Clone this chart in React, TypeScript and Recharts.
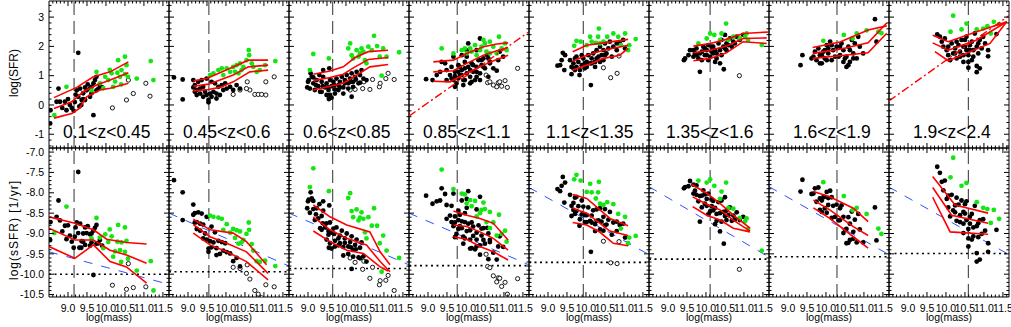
import React from 'react';
import { ComposedChart, Scatter, Line, XAxis, YAxis, ReferenceLine } from 'recharts';

type P = [number, number];

// ---------- data ----------
const zLabels = ['0.1<z<0.45', '0.45<z<0.6', '0.6<z<0.85', '0.85<z<1.1', '1.1<z<1.35', '1.35<z<1.6', '1.6<z<1.9', '1.9<z<2.4'];
const massLimit = [9.16, 9.55, 9.65, 9.77, 9.93, 10.11, 10.29, 10.59];
const floorLevel = [-10.0, -9.94, -9.86, -9.79, -9.71, -9.63, -9.57, -9.49];
const blueStart = [-9.45, -8.5, -8.5, -8.5, -7.87, -7.85, -7.85, -7.86];
const blueEnd = [-10.25, -9.8, -9.77, -9.77, -9.52, -9.58, -9.52, -9.52];
const fitStart: (number | null)[] = [null, null, null, -0.38, null, null, null, 0.14];
const fitEnd: (number | null)[] = [null, null, null, 2.5, null, null, null, 3.05];

const massTicks = [9.0, 9.5, 10.0, 10.5, 11.0, 11.5];
const sfrTicks = [-1, 0, 1, 2, 3];
const ssfrTicks = [-7.0, -7.5, -8.0, -8.5, -9.0, -9.5, -10.0, -10.5];

// [log mass, log SFR]
const blackPts: P[][] = [
  [[8.54,-0.18],[8.53,-0.63],[8.75,0.56],[8.70,0.11],[8.79,0.11],[8.92,0.11],[9.05,0.0],[8.85,-0.10],[8.96,-0.18],[9.10,-0.10],[9.18,0.10],[9.27,0.28],[9.23,0.50],[9.32,0.56],[9.40,0.40],[9.45,0.17],[9.36,0.17],[9.49,0.50],[9.58,0.56],[9.62,0.40],[9.67,0.74],[9.75,0.50],[9.80,0.56],[9.84,0.68],[9.71,0.85],[9.75,0.96],[9.40,0.20],[9.58,0.28],[9.27,1.78],[9.67,-0.35],[9.30,-0.05],[9.20,0.35],[9.45,0.60],[9.52,0.70],[9.62,0.62],[9.90,0.60],[9.15,-0.20],[9.00,0.20],[9.35,0.00]],
  [[8.63,0.94],[8.86,0.87],[8.86,0.19],[9.14,0.85],[9.18,0.68],[9.14,0.60],[9.23,0.51],[9.32,0.56],[9.40,0.62],[9.45,0.45],[9.49,0.34],[9.54,0.17],[9.58,0.39],[9.67,0.45],[9.75,0.39],[9.84,0.34],[9.93,0.51],[10.02,0.56],[10.11,0.62],[10.19,0.51],[10.28,0.68],[10.37,0.56],[9.27,0.79],[9.36,0.85],[9.49,0.90],[9.62,0.79],[9.71,0.74],[9.32,0.39],[9.40,0.28],[9.54,0.09],[9.23,0.34],[9.80,0.62],[9.89,0.68],[9.98,0.74],[9.18,0.45],[9.62,0.28],[9.75,0.22]],
  [[8.98,0.60],[9.00,0.79],[9.05,0.56],[9.10,0.96],[9.14,0.74],[9.18,0.51],[9.23,0.85],[9.27,0.64],[9.32,0.45],[9.36,0.79],[9.40,0.96],[9.45,0.60],[9.49,0.74],[9.54,0.51],[9.58,0.85],[9.58,0.34],[9.62,0.64],[9.67,0.79],[9.71,0.53],[9.75,0.90],[9.80,0.68],[9.84,0.79],[9.89,0.96],[9.93,0.60],[9.97,0.85],[10.02,1.02],[10.06,0.74],[10.11,0.90],[10.15,1.08],[10.19,0.79],[10.24,0.96],[10.28,1.13],[10.37,1.02],[10.41,1.19],[10.46,0.90],[9.40,1.19],[9.56,1.25],[9.14,0.94],[9.30,1.02],[9.49,0.34],[9.36,0.45],[9.71,0.39],[9.80,0.51],[9.93,0.39],[10.06,0.56],[10.19,0.62],[10.33,0.74],[10.54,0.85],[9.21,0.68],[9.39,0.64],[9.54,0.60],[9.69,0.68],[9.84,0.60],[9.97,0.74],[10.13,0.79],[10.26,0.87],[10.37,0.76],[9.02,0.85],[9.07,1.08],[9.55,0.20],[9.62,0.25],[10.15,0.28]],
  [[8.95,0.88],[9.12,0.85],[9.36,1.47],[9.45,1.42],[9.23,1.02],[9.32,1.13],[9.49,1.19],[9.58,1.02],[9.62,1.30],[9.67,0.85],[9.71,1.13],[9.75,0.74],[9.80,1.36],[9.84,1.02],[9.89,1.19],[9.93,0.85],[9.97,1.47],[10.02,1.08],[10.06,1.30],[10.11,0.96],[10.15,1.42],[10.19,1.13],[10.24,0.85],[10.28,1.30],[10.33,1.53],[10.37,1.08],[10.41,1.36],[10.46,1.59],[10.50,1.25],[10.56,1.70],[10.63,1.47],[10.81,1.17],[10.37,2.27],[10.06,2.10],[10.02,1.87],[10.28,1.87],[9.67,1.65],[9.89,1.70],[10.02,1.65],[9.80,0.91],[9.97,0.85],[10.15,0.79],[10.37,0.85],[9.93,0.68],[9.71,0.62],[10.59,0.96],[10.72,1.25],[10.85,1.53],[10.98,1.65],[10.89,1.82],[9.71,0.98],[9.89,1.02],[10.11,1.19],[10.28,1.13],[10.46,1.30],[10.63,1.42],[9.84,1.30],[10.19,1.36],[10.41,1.53],[10.59,1.59],[9.62,0.90],[9.49,0.85],[9.97,1.25],[9.80,1.13],[10.28,0.96],[10.11,0.74]],
  [[9.39,1.78],[9.45,1.70],[9.36,1.53],[9.25,1.34],[9.32,1.36],[9.43,1.19],[9.58,1.53],[9.62,1.30],[9.67,1.42],[9.62,1.05],[9.71,1.59],[9.75,1.30],[9.80,1.47],[9.84,1.19],[9.89,1.36],[9.93,1.59],[9.97,1.25],[10.02,1.47],[10.06,1.70],[10.11,1.42],[10.15,1.59],[10.19,1.76],[10.24,1.47],[10.28,1.87],[10.33,1.65],[10.37,1.99],[10.41,1.70],[10.46,1.87],[10.50,2.10],[10.54,1.76],[10.59,1.93],[10.63,2.16],[10.72,1.99],[10.81,1.87],[10.89,2.10],[11.03,1.93],[10.13,0.68],[9.83,1.02],[9.71,1.19],[10.02,1.30],[10.24,1.30],[10.46,1.53],[10.68,1.65],[9.89,1.70],[9.75,1.65],[10.28,1.59],[10.37,1.47],[9.67,1.25],[9.97,1.42],[10.15,1.42],[10.50,1.70],[10.81,2.10],[10.98,2.22]],
  [[9.42,1.53],[9.45,1.59],[9.54,1.70],[9.58,1.87],[9.67,1.65],[9.71,1.76],[9.75,1.93],[9.80,1.59],[9.84,1.13],[9.89,1.82],[9.93,1.99],[9.97,1.70],[10.02,1.87],[10.06,2.04],[10.11,1.65],[10.15,1.82],[10.19,1.99],[10.24,1.47],[10.28,1.76],[10.33,2.10],[10.37,1.87],[10.41,2.22],[10.46,1.99],[10.50,2.39],[10.54,2.10],[10.63,2.27],[10.72,2.16],[10.81,2.33],[10.89,2.22],[10.98,2.39],[10.37,1.42],[10.28,1.59],[10.06,1.53],[9.89,1.53],[9.75,1.70],[9.97,1.93],[10.15,1.99],[10.24,1.87],[10.50,1.93],[10.59,2.04],[10.68,1.99],[10.76,2.10],[10.02,1.70],[9.84,1.76],[9.67,1.87],[10.41,1.70],[10.54,1.87],[10.19,1.76],[10.47,1.22]],
  [[9.33,1.36],[9.38,1.70],[9.62,1.59],[9.71,1.82],[9.80,1.93],[9.84,1.70],[9.89,1.42],[9.93,1.82],[9.97,1.59],[10.02,2.04],[10.06,1.76],[10.11,2.16],[10.15,1.53],[10.19,1.87],[10.24,1.65],[10.28,1.99],[10.37,1.70],[10.41,2.10],[10.46,1.87],[10.50,1.59],[10.54,1.30],[10.59,1.99],[10.63,1.47],[10.68,2.22],[10.72,1.76],[10.76,2.10],[10.81,1.59],[10.85,2.33],[10.89,1.99],[10.98,1.76],[11.29,2.93],[11.33,2.16],[9.84,1.42],[10.02,1.53],[10.06,1.93],[9.97,1.87],[10.37,1.99],[10.63,1.87],[10.54,1.65],[10.72,1.59],[10.15,2.04],[9.67,1.65],[9.75,1.53],[9.89,1.70],[10.33,1.65],[10.46,1.47],[10.59,1.36]],
  [[9.77,2.41],[9.89,2.16],[9.93,1.99],[9.97,2.27],[10.02,1.87],[10.06,1.70],[10.11,1.53],[10.15,2.10],[10.19,1.76],[10.24,1.93],[10.28,1.59],[10.33,2.04],[10.37,1.82],[10.41,2.22],[10.46,1.70],[10.50,1.99],[10.54,2.33],[10.59,1.47],[10.63,1.87],[10.68,2.16],[10.72,1.65],[10.76,2.44],[10.81,1.99],[10.81,1.33],[10.85,1.76],[10.89,2.22],[10.94,1.93],[10.98,2.33],[11.03,2.10],[11.11,1.87],[10.28,2.16],[10.46,1.99],[10.54,1.87],[10.37,1.65],[10.63,2.04],[10.72,1.87],[10.24,1.76],[10.06,1.99],[9.84,2.33],[10.59,1.70],[10.68,1.53],[10.85,2.10],[10.46,1.47],[10.50,2.22],[10.59,1.27],[10.81,1.12],[10.89,1.25],[11.11,1.66],[11.33,2.42]],
];

const greenPts: P[][] = [
  [[8.96,0.62],[8.64,-0.35],[9.75,1.13],[9.84,0.74],[9.98,0.96],[10.06,0.85],[10.15,1.08],[10.24,0.80],[10.32,1.53],[10.37,0.96],[10.41,1.19],[10.50,1.65],[10.50,1.05],[10.54,1.36],[10.58,0.96],[9.62,0.50],[10.81,0.90],[11.18,1.50],[11.25,0.85],[9.93,0.57],[10.19,0.62],[10.10,1.20],[10.30,1.10],[10.40,0.70]],
  [[9.58,1.02],[9.80,1.19],[9.89,1.25],[10.02,1.25],[10.11,1.13],[10.19,1.30],[10.28,1.36],[10.37,1.42],[10.46,1.30],[10.54,1.53],[10.60,1.87],[10.61,1.70],[10.68,1.42],[10.72,1.30],[10.81,1.13],[10.89,1.19],[11.03,1.36],[11.30,1.50],[9.67,1.08],[10.24,1.13],[10.41,1.19],[9.93,1.02],[10.33,1.08]],
  [[9.14,1.74],[9.55,1.59],[9.05,1.19],[10.11,2.10],[10.06,1.93],[10.28,1.87],[10.37,1.76],[10.46,1.82],[10.74,2.36],[10.59,1.99],[10.68,1.87],[10.82,2.01],[10.98,1.93],[11.40,1.80],[10.89,1.65],[11.07,1.65],[10.94,1.00],[10.50,1.53],[10.19,1.59],[10.33,1.65],[10.54,1.42],[10.41,1.93],[10.15,1.70]],
  [[9.36,1.93],[9.67,1.76],[9.89,1.87],[10.02,1.76],[10.11,1.93],[10.24,2.04],[10.41,1.99],[10.50,2.10],[10.63,2.16],[10.72,1.99],[10.87,2.33],[10.94,1.93],[11.03,2.10],[11.07,1.87],[10.81,1.76],[10.54,1.82],[10.37,1.87],[10.28,1.70],[10.63,1.76],[10.15,1.82],[9.97,1.93],[10.46,2.22]],
  [[9.69,2.02],[9.75,2.19],[9.86,2.16],[10.02,2.04],[10.15,2.16],[10.26,2.12],[10.34,2.61],[10.32,2.33],[10.46,2.16],[10.56,2.33],[10.72,2.44],[10.85,2.33],[10.92,2.04],[11.03,2.44],[11.11,1.87],[11.14,2.04],[11.31,2.25],[10.11,2.33],[10.37,2.10]],
  [[9.80,2.10],[10.11,2.44],[10.22,2.39],[10.41,2.44],[10.53,2.78],[10.37,2.22],[10.59,2.22],[10.72,2.33],[10.89,2.27],[11.03,2.33],[11.07,2.44],[11.11,2.22],[11.47,2.05],[10.02,2.27]],
  [[9.93,2.19],[10.47,2.39],[10.70,2.27],[10.81,2.44],[11.07,2.55],[11.38,2.50],[11.46,2.45]],
  [[10.19,3.05],[10.12,2.50],[10.41,2.58],[10.54,2.78],[10.81,2.58],[11.09,2.69],[11.18,2.44],[11.26,2.84],[11.40,2.76],[10.98,2.61]],
];

const openPts: P[][] = [
  [[10.17,-0.10],[10.59,0.85],[10.54,0.17],[10.72,0.39],[11.05,0.74],[11.16,0.30]],
  [[10.19,0.36],[10.37,0.51],[10.56,0.79],[10.63,0.51],[10.76,0.36],[10.85,0.36],[10.94,0.36],[11.05,0.34],[11.05,0.79],[11.27,0.96],[10.54,0.56]],
  [[10.11,0.51],[10.24,0.53],[10.44,0.56],[10.47,0.79],[10.63,0.53],[10.70,0.87],[10.88,0.62],[10.90,0.74],[11.05,0.90],[11.11,1.08],[11.27,0.87]],
  [[10.53,1.02],[10.57,0.76],[10.63,0.79],[10.81,0.62],[10.85,0.76],[10.94,0.64],[11.03,0.83],[11.09,0.60],[11.36,1.25],[10.89,0.79],[10.72,0.68]],
  [[10.46,1.27],[10.65,0.93],[10.82,1.08],[10.87,1.67]],
  [[10.88,1.00]],
  [],
  [],
];

const sfrUpper: P[][] = [
  [[8.63,0.25],[9.23,0.60],[9.67,0.96],[10.11,1.13],[10.59,1.47]],
  [[9.14,0.82],[9.49,0.90],[9.75,1.05],[10.11,1.25],[10.59,1.53],[11.11,1.53]],
  [[9.14,1.05],[9.58,1.16],[9.93,1.30],[10.24,1.62],[10.59,1.82],[11.11,1.87]],
  [[9.14,1.47],[9.67,1.53],[10.02,1.76],[10.46,1.99],[10.81,2.08],[11.11,2.12]],
  [[9.65,1.82],[10.02,2.04],[10.46,2.12],[11.11,2.24]],
  [[9.67,2.01],[10.11,2.10],[10.54,2.24],[10.98,2.44],[11.65,2.49]],
  [[9.65,1.96],[10.37,2.15],[11.11,2.56],[11.60,2.70]],
  [[9.65,2.38],[10.06,2.16],[10.81,2.50],[11.60,2.84]],
];
const sfrMid: P[][] = [
  [[8.63,-0.12],[9.10,0.11],[9.40,0.45],[9.75,0.68],[10.11,0.85],[10.59,1.10]],
  [[9.14,0.64],[9.54,0.71],[9.84,0.85],[10.19,1.02],[10.59,1.30],[11.11,1.36]],
  [[9.14,0.83],[9.58,0.94],[9.93,1.05],[10.24,1.30],[10.59,1.55],[11.11,1.62]],
  [[9.14,1.13],[9.67,1.17],[10.02,1.42],[10.46,1.70],[10.81,1.85],[11.11,1.96]],
  [[9.65,1.50],[10.02,1.70],[10.46,1.87],[11.11,2.04]],
  [[9.67,1.78],[10.11,1.87],[10.54,2.01],[10.98,2.27],[11.60,2.29]],
  [[9.65,1.76],[10.37,1.90],[11.11,2.12],[11.60,2.80]],
  [[9.65,2.12],[10.06,1.87],[10.81,2.22],[11.60,2.84]],
];
const sfrLower: P[][] = [
  [[8.63,-0.45],[9.10,-0.29],[9.30,-0.12],[9.49,0.28],[9.84,0.51],[10.11,0.57],[10.59,0.74]],
  [[9.14,0.48],[9.54,0.53],[9.84,0.60],[10.19,0.79],[10.63,1.13],[11.11,1.19]],
  [[9.14,0.51],[9.58,0.64],[9.93,0.74],[10.28,1.02],[10.63,1.30],[11.11,1.38]],
  [[9.14,0.81],[9.58,0.79],[10.02,1.08],[10.46,1.36],[10.81,1.55],[11.11,1.70]],
  [[9.65,1.19],[10.02,1.36],[10.46,1.59],[10.89,1.70],[11.11,1.93]],
  [[9.67,1.51],[10.11,1.59],[10.54,1.78],[10.98,2.16],[11.60,2.10]],
  [[9.65,1.59],[10.37,1.68],[11.11,1.78],[11.60,2.45]],
  [[9.71,1.82],[10.06,1.51],[11.16,2.10],[11.60,2.84]],
];

const ssfrUpper: P[][] = [
  [[8.50,-8.59],[9.18,-8.75],[9.67,-8.91],[10.02,-9.14],[10.54,-9.22],[11.07,-9.26]],
  [[9.14,-8.65],[9.58,-8.91],[10.19,-8.99],[10.54,-9.20],[11.07,-9.77]],
  [[9.14,-8.30],[9.58,-8.59],[10.02,-8.79],[10.63,-8.96],[10.90,-9.45],[11.16,-9.77]],
  [[9.67,-8.45],[10.02,-8.55],[10.37,-8.63],[10.72,-8.75],[11.11,-9.16]],
  [[9.65,-8.04],[10.02,-8.14],[10.37,-8.42],[10.63,-8.63],[11.11,-8.81]],
  [[9.62,-7.79],[10.02,-8.01],[10.37,-8.26],[10.72,-8.55],[11.16,-8.87]],
  [[9.67,-7.97],[10.10,-8.10],[10.72,-8.38],[11.11,-8.71]],
  [[9.65,-7.60],[10.24,-8.30],[11.11,-8.50]],
];
const ssfrMid: P[][] = [
  [[8.50,-8.87],[9.18,-9.16],[9.67,-9.16],[10.11,-9.41],[10.54,-9.53],[11.07,-9.73]],
  [[9.14,-8.78],[9.58,-9.08],[10.02,-9.24],[10.54,-9.45],[11.11,-9.98]],
  [[9.14,-8.59],[9.58,-8.91],[10.02,-9.12],[10.54,-9.28],[10.90,-9.69],[11.16,-9.94]],
  [[9.67,-8.79],[10.02,-8.83],[10.37,-8.96],[10.72,-9.12],[11.11,-9.41]],
  [[9.65,-8.38],[10.02,-8.50],[10.37,-8.75],[10.63,-8.94],[11.11,-9.05]],
  [[9.65,-8.10],[10.02,-8.28],[10.37,-8.42],[10.72,-8.67],[11.16,-8.94]],
  [[9.67,-8.18],[10.10,-8.42],[10.72,-8.83],[11.11,-9.05]],
  [[9.65,-7.87],[10.15,-8.55],[11.11,-8.75]],
];
const ssfrLower: P[][] = [
  [[8.50,-9.32],[9.18,-9.61],[9.67,-9.28],[10.11,-9.69],[10.54,-9.82],[11.07,-10.22]],
  [[9.14,-8.99],[9.58,-9.28],[10.02,-9.45],[10.54,-9.69],[11.11,-10.14]],
  [[9.14,-8.94],[9.58,-9.20],[10.02,-9.41],[10.46,-9.49],[10.90,-9.82],[11.11,-9.92]],
  [[9.67,-9.08],[10.02,-9.14],[10.37,-9.32],[10.72,-9.45],[11.11,-9.65]],
  [[9.65,-8.73],[10.02,-8.79],[10.37,-8.97],[10.72,-9.24],[11.11,-9.30]],
  [[9.65,-8.34],[10.02,-8.55],[10.37,-8.67],[10.72,-8.87],[11.16,-8.96]],
  [[9.67,-8.37],[10.10,-8.63],[10.72,-9.08],[11.11,-9.36]],
  [[9.65,-8.11],[10.11,-8.96],[11.11,-9.02]],
];

// ---------- layout / style ----------
const FONT = '"Liberation Sans", Arial, Helvetica, sans-serif';
const PANEL_W = 120;
const LEFT = 49;
const TOP_H = 147;
const BOT_H = 149;
const BOT_TOP = 148;
const X_DOMAIN: [number, number] = [8.5, 11.66];
const SFR_DOMAIN: [number, number] = [-1.47, 3.55];
const SSFR_DOMAIN: [number, number] = [-10.56, -6.9];
const LABEL_INSET = [14, 14, 14, 14, 17, 17, 24, 24];
const GREEN = '#14e614';
const RED = '#ff0000';
const BLUE = '#3050ff';
const AX = 1; // axis band thickness

const steps = (a: number, b: number, s: number) => {
  const out: number[] = [];
  const n = Math.round((b - a) / s);
  for (let k = 0; k <= n; k++) out.push(Math.round((a + k * s) * 1000) / 1000);
  return out;
};
const xTickAll = steps(8.6, 11.6, 0.1);
const sfrTickAll = steps(-1.4, 3.4, 0.2);
const ssfrTickAll = steps(-10.5, -7.0, 0.1);

const isMajor = (v: number, majors: number[]) => majors.some((m) => Math.abs(m - v) < 1e-6);

function makeTick(side: 'bottom' | 'top' | 'left' | 'right', majors: number[], fmt: ((v: number) => string) | null) {
  return function TickMark(props: any) {
    const { x, y, payload } = props;
    const v = payload.value as number;
    const major = isMajor(v, majors);
    const len = major ? 5 : 2.5;
    let x2 = x;
    let y2 = y;
    if (side === 'bottom') y2 = y - len;
    else if (side === 'top') y2 = y + len;
    else if (side === 'left') x2 = x + len;
    else x2 = x - len;
    let label: React.ReactNode = null;
    if (fmt && major) {
      if (side === 'bottom') {
        label = (
          <text x={x} y={y + 15} textAnchor="middle" fontSize={10.5} fontFamily={FONT} fill="#000">
            {fmt(v)}
          </text>
        );
      } else if (side === 'left') {
        label = (
          <text x={x - 5} y={y} dy="0.35em" textAnchor="end" fontSize={10.5} fontFamily={FONT} fill="#000">
            {fmt(v)}
          </text>
        );
      }
    }
    return (
      <g>
        <line x1={x} y1={y} x2={x2} y2={y2} stroke="#000" strokeWidth={1} />
        {label}
      </g>
    );
  };
}

const toXY = (pts: P[]) => pts.map((p) => ({ x: p[0], y: p[1] }));

const dot = (fill: string) => (props: any) => <circle cx={props.cx} cy={props.cy} r={2.4} fill={fill} />;
const ring = (props: any) => <circle cx={props.cx} cy={props.cy} r={2.1} fill="#fff" stroke="#000" strokeWidth={0.9} />;

function Panel({ i, top }: { i: number; top: boolean }) {
  const first = i === 0;
  const last = i === 7;
  const ml = first ? LEFT : 0;
  const mr = last ? 2 : 0;
  const mb = top ? 0 : 29;
  const plotH = top ? TOP_H : BOT_H;
  const plotTop = top ? 1 : BOT_TOP;
  const width = PANEL_W + ml + mr + 2 * AX;
  const height = plotH + mb + 2 * AX;
  const yDomain = top ? SFR_DOMAIN : SSFR_DOMAIN;
  const yTicks = top ? sfrTickAll : ssfrTickAll;
  const yMajors = top ? sfrTicks : ssfrTicks;
  const yFmt = top ? (v: number) => String(v) : (v: number) => v.toFixed(1);
  const conv = (pts: P[]) => pts.map((p) => ({ x: p[0], y: top ? p[1] : p[1] - p[0] }));

  const black = conv(blackPts[i]);
  const green = conv(greenPts[i]);
  const open = conv(openPts[i]);
  const up = toXY((top ? sfrUpper : ssfrUpper)[i]);
  const mid = toXY((top ? sfrMid : ssfrMid)[i]);
  const lo = toXY((top ? sfrLower : ssfrLower)[i]);
  const blue = [
    { x: X_DOMAIN[0], y: blueStart[i] },
    { x: X_DOMAIN[1], y: blueEnd[i] },
  ];
  const fs = fitStart[i];
  const fe = fitEnd[i];
  const fit = fs !== null && fe !== null ? [
    { x: X_DOMAIN[0], y: fs },
    { x: X_DOMAIN[1], y: fe },
  ] : null;

  const common = { xAxisId: 'b', yAxisId: 'l' } as const;

  return (
    <div style={{ position: 'absolute', left: LEFT + i * PANEL_W - ml - AX, top: plotTop - AX, width, height }}>
      <ComposedChart width={width} height={height} margin={{ top: 0, right: mr, bottom: mb, left: ml }}>
        <XAxis
          xAxisId="b" dataKey="x" type="number" domain={X_DOMAIN} allowDataOverflow ticks={xTickAll} interval={0}
          height={AX} tickSize={0} tickMargin={0} tickLine={false} axisLine={{ stroke: '#000', strokeWidth: 1 }}
          orientation="bottom" tick={makeTick('bottom', massTicks, top ? null : (v) => v.toFixed(1))}
        />
        <XAxis
          xAxisId="t" dataKey="x" type="number" domain={X_DOMAIN} allowDataOverflow ticks={xTickAll} interval={0}
          height={AX} tickSize={0} tickMargin={0} tickLine={false} axisLine={{ stroke: '#000', strokeWidth: 1 }}
          orientation="top" tick={makeTick('top', massTicks, null)}
        />
        <YAxis
          yAxisId="l" type="number" domain={yDomain} allowDataOverflow ticks={yTicks} interval={0}
          width={AX} tickSize={0} tickMargin={0} tickLine={false} axisLine={{ stroke: '#000', strokeWidth: 1 }}
          orientation="left" tick={makeTick('left', yMajors, first ? yFmt : null)}
        />
        <YAxis
          yAxisId="r" type="number" domain={yDomain} allowDataOverflow ticks={yTicks} interval={0}
          width={AX} tickSize={0} tickMargin={0} tickLine={false} axisLine={{ stroke: '#000', strokeWidth: 1 }}
          orientation="right" tick={makeTick('right', yMajors, null)}
        />
        <ReferenceLine {...common} x={massLimit[i]} stroke="#444" strokeWidth={1.1} strokeDasharray="13 6" />
        {!top && (
          <ReferenceLine {...common} y={floorLevel[i]} stroke="#000" strokeWidth={1.6} strokeDasharray="2 3.5" />
        )}
        {!top && (
          <Line {...common} data={blue} dataKey="y" stroke={BLUE} strokeWidth={1} strokeDasharray="9 9" dot={false} isAnimationActive={false} />
        )}
        {open.length > 0 && (
          <Scatter {...common} data={open} dataKey="y" shape={ring} isAnimationActive={false} />
        )}
        <Scatter {...common} data={black} dataKey="y" shape={dot('#000')} isAnimationActive={false} />
        <Scatter {...common} data={green} dataKey="y" shape={dot(GREEN)} isAnimationActive={false} />
        <Line {...common} data={up} dataKey="y" stroke={RED} strokeWidth={1.6} dot={false} isAnimationActive={false} zIndex={700} />
        <Line {...common} data={mid} dataKey="y" stroke={RED} strokeWidth={1.6} dot={false} isAnimationActive={false} zIndex={700} />
        <Line {...common} data={lo} dataKey="y" stroke={RED} strokeWidth={1.6} dot={false} isAnimationActive={false} zIndex={700} />
        {top && fit && (
          <Line {...common} data={fit} dataKey="y" stroke={RED} strokeWidth={1.4} strokeDasharray="8 3 2 3" dot={false} isAnimationActive={false} zIndex={700} />
        )}
      </ComposedChart>
    </div>
  );
}

export default function App() {
  const idx = [0, 1, 2, 3, 4, 5, 6, 7];
  return (
    <div style={{ position: 'absolute', left: 0, top: 0, width: 1011, height: 327, background: '#fff', overflow: 'hidden' }}>
      <style>{'.recharts-surface{overflow:visible}'}</style>
      {idx.map((i) => (
        <Panel key={'t' + i} i={i} top={true} />
      ))}
      {idx.map((i) => (
        <Panel key={'b' + i} i={i} top={false} />
      ))}
      <svg width={1011} height={327} style={{ position: 'absolute', left: 0, top: 0, pointerEvents: 'none' }}>
        <text transform="translate(18,73) rotate(-90)" textAnchor="middle" fontSize={12} fontFamily={FONT} fill="#000">
          log(SFR)
        </text>
        <text transform="translate(18,230) rotate(-90)" textAnchor="middle" fontSize={12} letterSpacing={1} fontFamily={FONT} fill="#000">
          log(sSFR) [1/yr]
        </text>
        {idx.map((i) => (
          <text key={'m' + i} x={LEFT + i * PANEL_W + PANEL_W / 2} y={321} textAnchor="middle" fontSize={10.5} fontFamily={FONT} fill="#000">
            log(mass)
          </text>
        ))}
        {idx.map((i) => (
          <text key={'z' + i} x={LEFT + i * PANEL_W + LABEL_INSET[i]} y={138} fontSize={17.5} fontFamily={FONT} fill="#000">
            {zLabels[i]}
          </text>
        ))}
      </svg>
    </div>
  );
}
